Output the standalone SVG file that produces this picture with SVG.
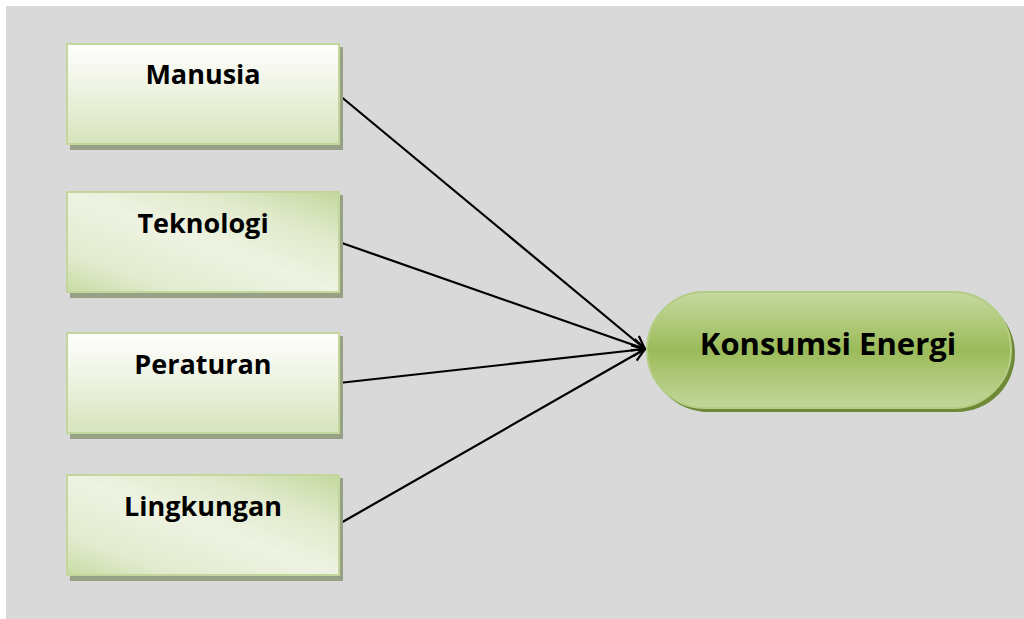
<svg xmlns="http://www.w3.org/2000/svg" width="1024" height="619" viewBox="0 0 1024 619">
<defs>
<linearGradient id="gv" x1="0" y1="0" x2="0" y2="1">
<stop offset="0" stop-color="#ffffff"/>
<stop offset="0.45" stop-color="#eef3e2"/>
<stop offset="1" stop-color="#d7e4bd"/>
</linearGradient>
<linearGradient id="gd" x1="0" y1="1" x2="1" y2="0">
<stop offset="0" stop-color="#c9dba3"/>
<stop offset="0.2" stop-color="#e2ebcf"/>
<stop offset="0.5" stop-color="#eef3e2"/>
<stop offset="0.75" stop-color="#e0eacb"/>
<stop offset="1" stop-color="#c4d79d"/>
</linearGradient>
<linearGradient id="ge" x1="0" y1="0" x2="0" y2="1">
<stop offset="0" stop-color="#c6d9a0"/>
<stop offset="0.5" stop-color="#9bbb59"/>
<stop offset="1" stop-color="#c3d69b"/>
</linearGradient>
<marker id="arr" markerWidth="16" markerHeight="16" refX="14" refY="8" orient="auto" markerUnits="userSpaceOnUse">
<path d="M1,2 L14,8 L1,14" fill="none" stroke="#000" stroke-width="2.2"/>
</marker>
<style>
.box{stroke:#c3d69b;stroke-width:2}
.sh{fill:#97a186}
.t{font-family:"Open Sans","Liberation Sans",sans-serif;font-weight:bold;font-size:27px;fill:#000;text-anchor:middle}
.c{stroke:#000;stroke-width:2.2;fill:none;marker-end:url(#arr)}
</style>
</defs>
<rect x="0" y="0" width="1024" height="619" fill="#ffffff"/>
<rect x="6" y="6" width="1018" height="613" fill="#d9d9d9"/>
<g id="connectors">
<line class="c" x1="339" y1="95" x2="645" y2="349"/>
<line class="c" x1="339" y1="242" x2="645" y2="349"/>
<line class="c" x1="339" y1="383" x2="645" y2="349"/>
<line class="c" x1="339" y1="524" x2="645" y2="349"/>
</g>
<g id="manusia">
<rect class="sh" x="70" y="47" width="273" height="103"/>
<rect class="box" x="67" y="44" width="272" height="100" fill="url(#gv)"/>
<text class="t" x="203" y="84">Manusia</text>
</g>
<g id="teknologi">
<rect class="sh" x="70" y="195" width="273" height="103"/>
<rect class="box" x="67" y="192" width="272" height="100" fill="url(#gd)"/>
<text class="t" x="203" y="233">Teknologi</text>
</g>
<g id="peraturan">
<rect class="sh" x="70" y="336" width="273" height="103"/>
<rect class="box" x="67" y="333" width="272" height="100" fill="url(#gv)"/>
<text class="t" x="203" y="374">Peraturan</text>
</g>
<g id="lingkungan">
<rect class="sh" x="70" y="478" width="273" height="103"/>
<rect class="box" x="67" y="475" width="272" height="100" fill="url(#gd)"/>
<text class="t" x="203" y="516">Lingkungan</text>
</g>
<g id="konsumsi">
<rect x="650" y="296" width="365" height="116" rx="58" fill="#6e8a37"/>
<rect x="647" y="292" width="364" height="116" rx="58" fill="url(#ge)" stroke="#b4cd84" stroke-width="2"/>
<text x="828" y="355" font-family="'Open Sans','Liberation Sans',sans-serif" font-weight="bold" font-size="31" text-anchor="middle" fill="#000">Konsumsi Energi</text>
</g>
</svg>
